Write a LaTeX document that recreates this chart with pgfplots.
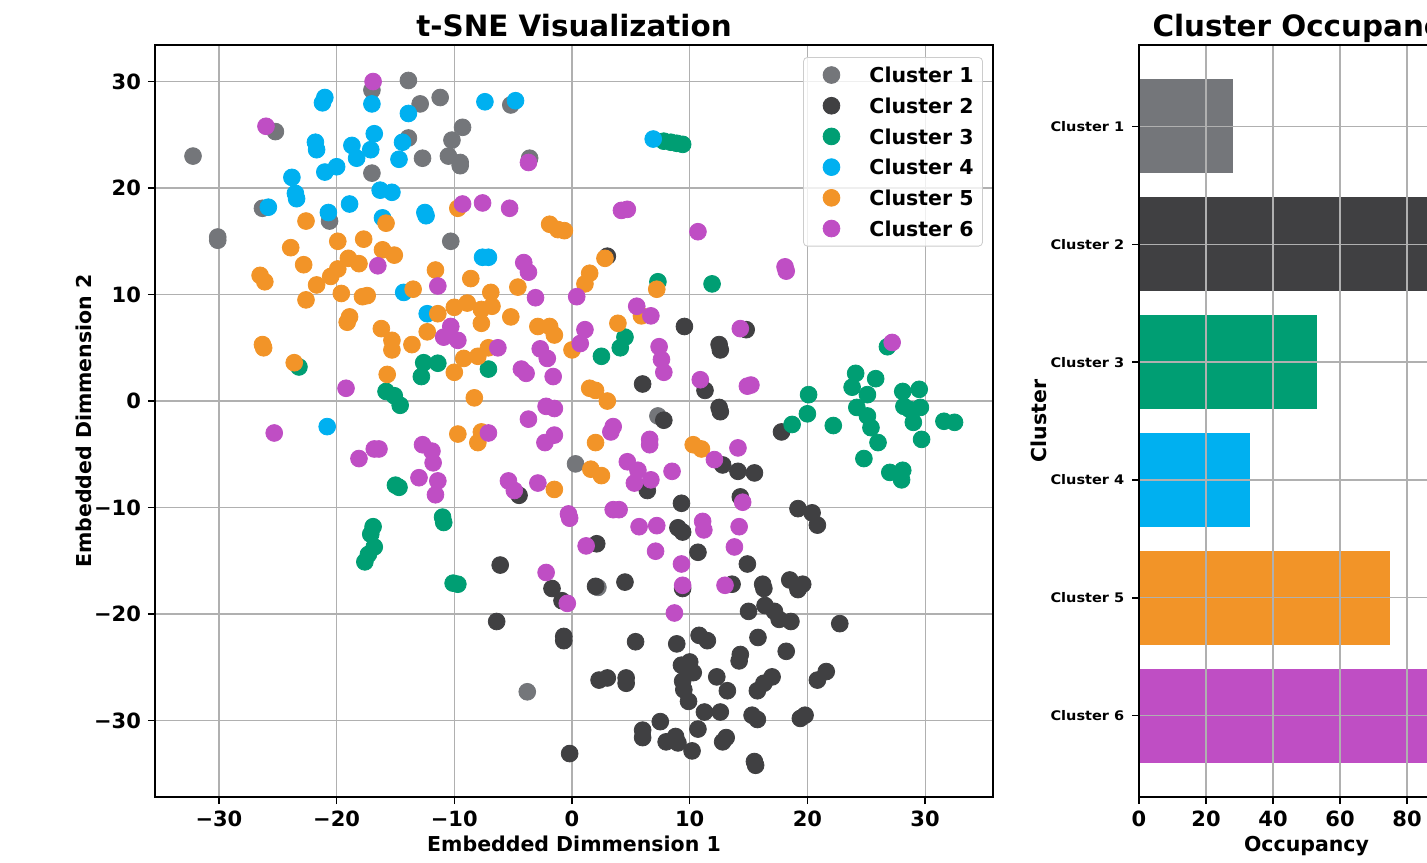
\documentclass[border=0pt]{standalone}
\usepackage{fontspec}
\setmainfont{DejaVu Sans}
\usepackage{pgfplots}
\pgfplotsset{compat=1.18}

\definecolor{cOne}{RGB}{116,118,122}
\definecolor{cTwo}{RGB}{64,64,66}
\definecolor{cThree}{RGB}{0,158,115}
\definecolor{cFour}{RGB}{0,176,240}
\definecolor{cFive}{RGB}{242,148,40}
\definecolor{cSix}{RGB}{191,78,196}
\definecolor{gridgray}{RGB}{176,176,176}

\pgfplotsset{
  common/.style={
    scale only axis,
    anchor=south west,
    grid=major,
    major grid style={line width=0.6pt, gridgray},
    axis line style={line width=0.8pt},
    tick align=outside,
    major tick length=3.5pt,
    tick style={line width=0.7pt, black},
    xtick pos=bottom, ytick pos=left,
    ticklabel style={font=\bfseries\fontsize{10.5}{12}\selectfont},
    every axis title/.style={at={(axis description cs:0.5,1)}, anchor=base, yshift=4.5pt,
      font=\bfseries\fontsize{14.7}{17}\selectfont},
    every axis x label/.style={at={(axis description cs:0.5,0)}, anchor=base, yshift=-27pt,
      font=\bfseries\fontsize{10.25}{12}\selectfont},
  },
  ylab/.style={every axis y label/.style={at={(axis description cs:0,0.5)},
      xshift=-#1, rotate=90, anchor=base,
      font=\bfseries\fontsize{10.25}{12}\selectfont}},
  pts/.style={only marks, mark=*, mark size=4.2pt, color=#1,
    mark options={draw=none, fill=#1},
    legend image code/.code={\draw[draw=none] (0pt,0pt) -- (28.5pt,0pt);
      \draw[##1, opacity=1, fill opacity=1] plot coordinates {(11pt,0pt)};}},
}

\begin{document}
\begin{tikzpicture}
\useasboundingbox (0,0) rectangle (713.5pt,-431pt);
\clip (0,0) rectangle (713.5pt,-431pt);

% left: t-SNE scatter
\begin{axis}[common, ylab=32pt,
  at={(77.5pt,-398.5pt)}, width=419pt, height=376pt,
  xmin=-35.43, xmax=35.77, ymin=-37.18, ymax=33.43,
  xtick={-30,-20,...,30}, ytick={-30,-20,...,30},
  xticklabels={−30,−20,−10,0,10,20,30},
  yticklabels={−30,−20,−10,0,10,20,30},
  title={t-SNE Visualization},
  xlabel={Embedded Dimmension 1},
  ylabel={Embedded Dimmension 2},
  legend style={at={(0.988,0.984)}, anchor=north east,
    draw={rgb,255:red,204;green,204;blue,204}, rounded corners=2pt,
    fill=white, fill opacity=0.8, text opacity=1, draw opacity=1,
    font=\bfseries\fontsize{10.25}{12}\selectfont,
    inner xsep=3pt, inner ysep=3.5pt, row sep=4.75pt,
    nodes={inner sep=1.5pt, text height=7.6pt, text depth=0pt},
    cells={anchor=west}},
]
\addplot[pts=cOne] coordinates {
(-32.2,23.0) (-30.1,15.4) (-30.1,15.1) (-25.2,25.3) (-26.3,18.1) (-20.6,16.9)
(-17.0,29.2) (-13.9,30.1) (-12.9,27.9) (-11.2,28.5) (-13.9,24.7) (-12.7,22.8)
(-17.0,21.4) (-9.3,25.7) (-10.2,24.5) (-10.5,23.0) (-9.5,22.4) (-9.5,22.1)
(-5.2,27.8) (-3.6,22.8) (-10.3,15.0) (7.3,-1.4) (0.3,-5.9) (-3.8,-27.3) (2.2,-17.5)
};
\addlegendentry{Cluster 1}
\addplot[pts=cTwo] coordinates {
(-6.1,-15.4) (-1.7,-17.6) (-0.85,-18.75) (2.0,-17.4) (4.5,-17.0) (-6.4,-20.7)
(-0.7,-22.1) (-0.7,-22.5) (5.4,-22.6) (8.9,-22.8) (10.8,-22.0) (11.5,-22.5)
(9.3,-24.8) (10.0,-24.5) (10.3,-25.5) (9.4,-26.3) (9.5,-27.1) (9.9,-28.2)
(2.3,-26.2) (3.0,-26.0) (4.6,-26.0) (4.6,-26.5) (11.25,-29.2) (12.3,-25.9)
(6.0,-30.9) (6.0,-31.6) (7.5,-30.1) (8.0,-32.0) (8.8,-31.5) (9.0,-32.1)
(10.7,-30.8) (10.2,-32.85) (-0.2,-33.1) (10.7,-14.2) (9.4,-17.6) (14.9,-15.3)
(13.6,-17.2) (16.2,-17.2) (16.3,-17.6) (18.5,-16.8) (19.6,-17.2) (19.2,-17.7)
(15.0,-19.75) (16.4,-19.2) (17.2,-19.75) (17.6,-20.5) (18.6,-20.7) (22.75,-20.9)
(15.8,-22.2) (18.2,-23.5) (14.3,-23.8) (14.2,-24.4) (17.0,-25.9) (16.3,-26.5)
(15.75,-27.2) (20.85,-26.2) (21.6,-25.4) (13.2,-27.2) (12.6,-29.2) (15.3,-29.5)
(15.75,-29.9) (19.4,-29.8) (19.8,-29.5) (13.1,-31.6) (12.8,-32.0) (15.5,-33.85)
(15.6,-34.2) (14.8,6.7) (12.5,5.3) (12.6,4.8) (3.0,13.6) (12.5,-0.6) (12.6,-1.0)
(17.8,-2.9) (12.8,-6.0) (14.1,-6.6) (15.5,-6.75) (14.3,-9.0) (19.2,-10.1)
(20.4,-10.5) (20.85,-11.65) (9.55,7.0) (6.0,1.6) (11.3,1.0) (7.8,-1.8) (6.4,-8.4)
(9.3,-9.6) (9.0,-11.9) (9.4,-12.3) (-4.5,-8.85) (2.1,-13.4)
};
\addlegendentry{Cluster 2}
\addplot[pts=cThree] coordinates {
(7.8,24.4) (8.4,24.3) (8.9,24.2) (9.4,24.1) (7.3,11.2) (11.9,11.0) (4.5,6.0)
(4.1,5.0) (2.5,4.2) (-7.1,3.0) (-11.0,-10.9) (-10.9,-11.4) (-23.2,3.2)
(-12.6,3.6) (-11.4,3.55) (-12.8,2.3) (-15.8,0.9) (-15.1,0.5) (-14.6,-0.4)
(-15.0,-7.9) (-14.7,-8.1) (-16.9,-11.8) (-17.1,-12.5) (-16.8,-13.7) (-17.3,-14.4)
(-17.6,-15.1) (-10.1,-17.1) (-9.7,-17.2)
(20.1,0.6) (20.0,-1.2) (18.7,-2.2) (22.2,-2.3) (24.1,2.6) (23.8,1.3) (25.8,2.1)
(25.1,0.6) (24.2,-0.6) (25.1,-1.4) (25.4,-2.5) (26.0,-3.9) (24.8,-5.4) (26.8,5.1)
(28.1,0.9) (29.5,1.1) (28.2,-0.5) (28.7,-0.8) (29.6,-0.6) (29.0,-2.0) (29.7,-3.6)
(31.6,-1.9) (32.5,-2.0) (27.0,-6.7) (28.1,-6.5) (28.0,-7.4)
};
\addlegendentry{Cluster 3}
\addplot[pts=cFour] coordinates {
(-21.0,28.5) (-21.2,28.0) (-17.0,27.9) (-13.9,27.0) (-21.8,24.3) (-21.7,23.6)
(-18.7,24.0) (-18.3,22.8) (-16.8,25.1) (-17.1,23.6) (-14.4,24.3) (-14.7,22.7)
(-20.0,22.0) (-21.0,21.5) (-23.8,21.0) (-23.5,19.5) (-23.4,19.0) (-25.8,18.2)
(-20.7,17.7) (-18.9,18.5) (-16.3,19.8) (-15.3,19.6) (-16.1,17.2) (-12.5,17.7)
(-12.4,17.4) (-14.3,10.2) (-7.4,28.1) (-4.8,28.2) (6.9,24.6) (-7.6,13.5)
(-7.1,13.5) (-12.3,8.2) (-20.8,-2.4)
};
\addlegendentry{Cluster 4}
\addplot[pts=cFive] coordinates {
(-22.6,16.9) (-23.9,14.4) (-22.8,12.8) (-26.5,11.8) (-26.1,11.2) (-21.7,10.9)
(-22.6,9.5) (-19.9,15.0) (-17.7,15.2) (-19.0,13.4) (-19.9,12.4) (-20.5,11.7)
(-18.1,12.9) (-19.6,10.1) (-17.8,9.8) (-17.4,9.9) (-16.1,14.2) (-15.1,13.7)
(-15.8,16.7) (-18.9,7.9) (-19.1,7.4) (-16.2,6.8) (-15.3,5.7) (-15.3,4.8)
(-13.6,5.3) (-15.7,2.5) (-11.6,12.3) (-13.5,10.5) (-9.7,18.1) (-8.6,11.5)
(-11.4,8.2) (-10.0,8.8) (-8.9,9.2) (-12.3,6.5) (-9.2,4.0) (-8.0,4.2) (-10.0,2.7)
(-8.3,0.3) (-26.3,5.3) (-26.2,5.0) (-23.6,3.6) (-9.7,-3.1) (-8.0,-3.9) (-7.7,-2.9)
(-7.7,8.6) (-7.7,7.3) (-1.9,16.6) (-1.2,16.1) (-0.65,16.0) (-4.6,10.7) (-6.9,10.2)
(-6.8,8.9) (-5.2,7.9) (-2.9,7.0) (-1.9,7.0) (-1.5,6.2) (-7.1,5.0) (0.0,4.8)
(2.8,13.4) (1.5,12.0) (1.1,11.0) (7.2,10.5) (3.9,7.3) (5.9,8.0) (1.5,1.2)
(2.0,1.0) (3.0,0.0) (2.0,-3.9) (1.6,-6.4) (2.5,-7.0) (-1.5,-8.3) (10.3,-4.1)
(11.0,-4.5)
};
\addlegendentry{Cluster 5}
\addplot[pts=cSix] coordinates {
(-16.9,30.0) (-26.0,25.8) (-16.5,12.7) (-11.4,10.8) (-3.7,22.4) (-9.3,18.5)
(-7.6,18.6) (-5.3,18.1) (4.2,17.9) (4.7,18.0) (10.7,15.9) (-4.1,13.0) (-3.7,12.1)
(-3.1,9.7) (0.4,9.8) (5.5,8.9) (6.7,8.0) (18.1,12.6) (18.2,12.2) (1.1,6.7)
(0.7,5.4) (-6.3,5.0) (-2.7,4.9) (-2.1,4.0) (-4.3,3.0) (-3.9,2.6) (-1.6,2.3)
(7.4,5.1) (7.6,3.9) (7.8,2.7) (10.9,2.0) (-2.2,-0.5) (-1.5,-0.7) (-3.7,-1.7)
(-7.1,-3.0) (-2.3,-3.9) (-1.5,-3.2) (3.5,-2.4) (3.3,-2.9) (6.6,-3.6) (6.6,-4.1)
(4.7,-5.7) (5.6,-6.5) (5.3,-7.7) (6.7,-7.4) (8.5,-6.6) (12.1,-5.5) (-5.4,-7.5)
(-4.9,-8.4) (-2.9,-7.7) (-10.3,7.0) (-10.9,6.0) (-9.7,5.7) (-19.2,1.2)
(-25.3,-3.0) (-16.8,-4.5) (-16.4,-4.5) (-18.1,-5.4) (-12.7,-4.1) (-11.9,-4.7)
(-11.8,-5.8) (-13.0,-7.2) (-11.4,-7.5) (-11.6,-8.8) (-0.3,-10.6) (-0.2,-11.0)
(3.5,-10.2) (4.0,-10.2) (5.7,-11.8) (7.2,-11.7) (11.1,-11.3) (11.2,-12.1)
(1.2,-13.6) (7.1,-14.1) (-2.2,-16.1) (-0.4,-19.0) (9.3,-15.3) (9.4,-17.3)
(8.7,-19.9) (14.3,6.8) (14.9,1.4) (15.2,1.5) (14.1,-4.4) (14.5,-9.5) (14.2,-11.8)
(13.8,-13.7) (27.2,5.5) (13.0,-17.3)
};
\addlegendentry{Cluster 6}
\end{axis}

% right: occupancy bars (cut off at the picture's edge)
\begin{axis}[common, ylab=46.5pt,
  at={(569.5pt,-398.5pt)}, width=167.5pt, height=376pt,
  axis on top,
  xmin=0, xmax=100, ymin=-0.69, ymax=5.69, y dir=reverse,
  xtick={0,20,...,100},
  xticklabels={0,20,40,60,80,100},
  ytick={0,...,5},
  yticklabels={Cluster 1,Cluster 2,Cluster 3,Cluster 4,Cluster 5,Cluster 6},
  yticklabel style={font=\bfseries\fontsize{6.6}{8}\selectfont, xscale=1.1},
  title={Cluster Occupancy},
  xlabel={Occupancy},
  ylabel={Cluster},
]
\addplot[xbar, bar width=0.8, bar shift=0pt, fill=cOne, draw=none] coordinates {(28,0)};
\addplot[xbar, bar width=0.8, bar shift=0pt, fill=cTwo, draw=none] coordinates {(95,1)};
\addplot[xbar, bar width=0.8, bar shift=0pt, fill=cThree, draw=none] coordinates {(53,2)};
\addplot[xbar, bar width=0.8, bar shift=0pt, fill=cFour, draw=none] coordinates {(33,3)};
\addplot[xbar, bar width=0.8, bar shift=0pt, fill=cFive, draw=none] coordinates {(75,4)};
\addplot[xbar, bar width=0.8, bar shift=0pt, fill=cSix, draw=none] coordinates {(92,5)};
\end{axis}
\end{tikzpicture}
\end{document}
